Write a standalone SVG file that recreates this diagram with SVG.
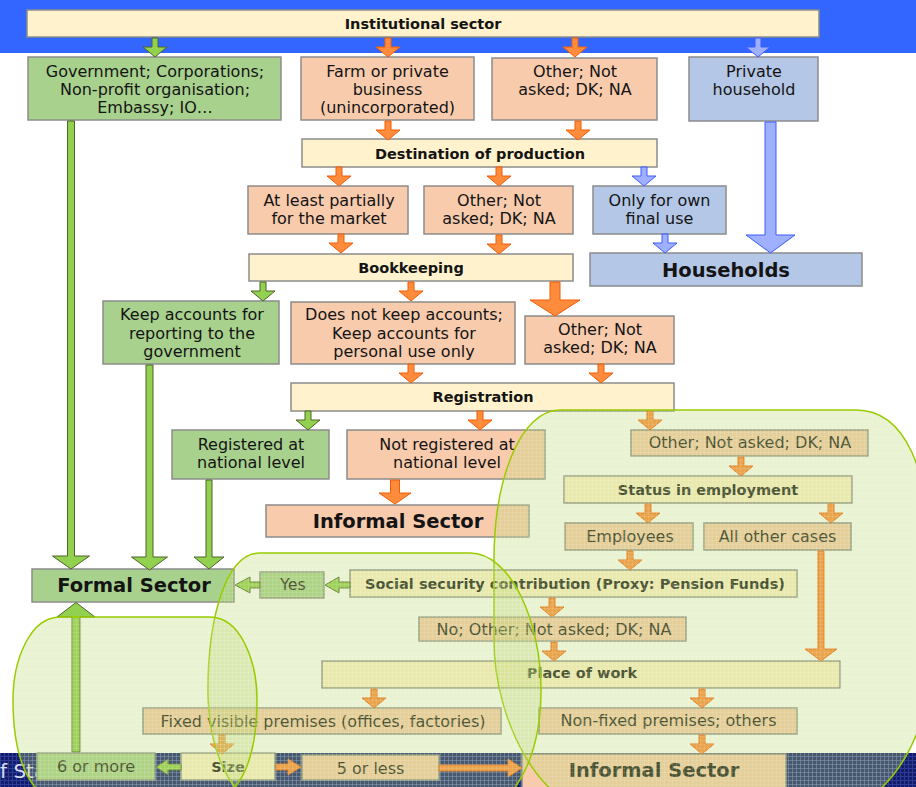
<svg xmlns="http://www.w3.org/2000/svg" width="916" height="787" viewBox="0 0 916 787">
<style>
.bx{stroke:#8C8C8C;stroke-width:1.5}
.g{fill:#A9D18E}.p{fill:#F8CBAD}.b{fill:#B4C7E7}.c{fill:#FFF2CC}
text{font-family:"DejaVu Sans",sans-serif;fill:#141414;text-anchor:middle}
.t{font-size:16px}
.tb{font-size:14.5px;font-weight:bold}
.tl{font-size:19.5px;font-weight:bold}
.ag{fill:#92D050;stroke:#4F6228;stroke-width:1}
.ao{fill:#FF8C3C;stroke:#F25C05;stroke-width:1}
.ab{fill:#9EB0FF;stroke:#3D5CFF;stroke-width:1}
.hl{fill:#BCD870;fill-opacity:0.32;stroke:none}
.hlg{fill:url(#grid);stroke:#99CC00;stroke-width:1.5}
</style>
<defs>
<path id="ad" d="M-3 0h6v9h9l-12 10-12-10h9z"/>
<pattern id="grid" width="4" height="4" patternUnits="userSpaceOnUse">
<path d="M0 0.5H4M0.5 0V4" stroke="#ffffff" stroke-opacity="0.11" stroke-width="1" fill="none"/>
</pattern>
<pattern id="ngrid" width="4" height="4" patternUnits="userSpaceOnUse">
<rect width="4" height="4" fill="#121C6A"/>
<path d="M0 0.5H4M0.5 0V4" stroke="#2C3C96" stroke-width="1" fill="none"/>
</pattern>
</defs>

<rect x="0" y="0" width="916" height="53" fill="#3366FF"/>
<rect x="0" y="753" width="916" height="34" fill="url(#ngrid)"/>
<text x="0" y="778" style="font-size:20px;fill:#D8DCF0;text-anchor:start">f Sta</text>

<g id="n-institutional"><rect class="bx c" x="27" y="10" width="792" height="27"/><text class="tb" x="423" y="29">Institutional sector</text></g>
<g id="n-government"><rect class="bx g" x="28" y="57" width="253" height="63"/><text class="t" x="155" y="77">Government; Corporations;</text><text class="t" x="155" y="95">Non-profit organisation;</text><text class="t" x="155" y="113">Embassy; IO…</text></g>
<g id="n-farm"><rect class="bx p" x="301" y="57" width="173" height="63"/><text class="t" x="387.5" y="77">Farm or private</text><text class="t" x="387.5" y="95">business</text><text class="t" x="387.5" y="113">(unincorporated)</text></g>
<g id="n-other1"><rect class="bx p" x="492" y="58" width="165" height="62"/><text class="t" x="575" y="77">Other; Not</text><text class="t" x="575" y="95">asked; DK; NA</text></g>
<g id="n-private"><rect class="bx b" x="689" y="57" width="129" height="64"/><text class="t" x="754" y="77">Private</text><text class="t" x="754" y="95">household</text></g>
<g id="n-destination"><rect class="bx c" x="302" y="139" width="355" height="28"/><text class="tb" x="480" y="159">Destination of production</text></g>
<g id="n-market"><rect class="bx p" x="248" y="186" width="160" height="48"/><text class="t" x="329" y="206">At least partially</text><text class="t" x="329" y="224">for the market</text></g>
<g id="n-other2"><rect class="bx p" x="424" y="186" width="149" height="48"/><text class="t" x="499" y="206">Other; Not</text><text class="t" x="499" y="224">asked; DK; NA</text></g>
<g id="n-ownuse"><rect class="bx b" x="593" y="186" width="133" height="48"/><text class="t" x="659.5" y="206">Only for own</text><text class="t" x="659.5" y="224">final use</text></g>
<g id="n-bookkeeping"><rect class="bx c" x="249" y="254" width="324" height="27"/><text class="tb" x="411" y="273">Bookkeeping</text></g>
<g id="n-households"><rect class="bx b" x="590" y="253" width="272" height="33"/><text class="tl" x="726" y="277">Households</text></g>
<g id="n-keepgov"><rect class="bx g" x="103" y="301" width="176" height="63"/><text class="t" x="192" y="320">Keep accounts for</text><text class="t" x="192" y="339">reporting to the</text><text class="t" x="192" y="357">government</text></g>
<g id="n-nokeep"><rect class="bx p" x="291" y="302" width="224" height="62"/><text class="t" x="404" y="320">Does not keep accounts;</text><text class="t" x="404" y="339">Keep accounts for</text><text class="t" x="404" y="357">personal use only</text></g>
<g id="n-other3"><rect class="bx p" x="525" y="316" width="149" height="48"/><text class="t" x="600" y="335">Other; Not</text><text class="t" x="600" y="353">asked; DK; NA</text></g>
<g id="n-registration"><rect class="bx c" x="291" y="383" width="383" height="28"/><text class="tb" x="483" y="402">Registration</text></g>
<g id="n-registered"><rect class="bx g" x="172" y="430" width="157" height="49"/><text class="t" x="251" y="450">Registered at</text><text class="t" x="251" y="468">national level</text></g>
<g id="n-notregistered"><rect class="bx p" x="347" y="430" width="198" height="49"/><text class="t" x="447" y="450">Not registered at</text><text class="t" x="447" y="468">national level</text></g>
<g id="n-other4"><rect class="bx p" x="631" y="430" width="237" height="26"/><text class="t" x="750" y="448">Other; Not asked; DK; NA</text></g>
<g id="n-informal1"><rect class="bx p" x="266" y="505" width="263" height="32"/><text class="tl" x="398" y="528">Informal Sector</text></g>
<g id="n-status"><rect class="bx c" x="564" y="476" width="288" height="27"/><text class="tb" x="708" y="495">Status in employment</text></g>
<g id="n-employees"><rect class="bx p" x="565" y="523" width="128" height="27"/><text class="t" x="630" y="542">Employees</text></g>
<g id="n-allother"><rect class="bx p" x="704" y="523" width="147" height="27"/><text class="t" x="777.5" y="542">All other cases</text></g>
<g id="n-formal"><rect class="bx g" x="32" y="569" width="202" height="33"/><text class="tl" x="134" y="592">Formal Sector</text></g>
<g id="n-yes"><rect class="bx g" x="260" y="572" width="64" height="26"/><text class="t" x="293" y="590">Yes</text></g>
<g id="n-social"><rect class="bx c" x="350" y="570" width="447" height="27"/><text class="tb" x="575" y="589">Social security contribution (Proxy: Pension Funds)</text></g>
<g id="n-noother"><rect class="bx p" x="419" y="617" width="267" height="24"/><text class="t" x="554" y="635">No; Other; Not asked; DK; NA</text></g>
<g id="n-place"><rect class="bx c" x="322" y="661" width="518" height="27"/><text class="tb" x="582" y="678">Place of work</text></g>
<g id="n-fixed"><rect class="bx p" x="143" y="708" width="358" height="26"/><text class="t" x="323" y="727">Fixed visible premises (offices, factories)</text></g>
<g id="n-nonfixed"><rect class="bx p" x="539" y="708" width="258" height="26"/><text class="t" x="668.5" y="726">Non-fixed premises; others</text></g>
<g id="n-sixmore"><rect class="bx g" x="37" y="753" width="118" height="27"/><text class="t" x="96" y="772">6 or more</text></g>
<g id="n-size"><rect class="bx c" x="181" y="753" width="94" height="27"/><text class="tb" x="228" y="772">Size</text></g>
<g id="n-fiveless"><rect class="bx p" x="302" y="755" width="137" height="25"/><text class="t" x="370.5" y="774">5 or less</text></g>
<g id="n-informal2"><rect class="bx p" x="522" y="754" width="264" height="36"/><text class="tl" x="654" y="777">Informal Sector</text></g>

<g id="connectors">
<use href="#ad" class="ag" transform="translate(155,38)"/>
<use href="#ad" class="ao" transform="translate(388,38)"/>
<use href="#ad" class="ao" transform="translate(575,38)"/>
<use href="#ad" class="ab" transform="translate(758,38)"/>
<use href="#ad" class="ao" transform="translate(388,121)"/>
<use href="#ad" class="ao" transform="translate(578,121)"/>
<use href="#ad" class="ao" transform="translate(339,167)"/>
<use href="#ad" class="ao" transform="translate(499,167)"/>
<use href="#ad" class="ab" transform="translate(644,167)"/>
<use href="#ad" class="ao" transform="translate(341,234)"/>
<use href="#ad" class="ao" transform="translate(499,235)"/>
<use href="#ad" class="ab" transform="translate(665,234)"/>
<use href="#ad" class="ag" transform="translate(263,282)"/>
<use href="#ad" class="ao" transform="translate(411,282)"/>
<use href="#ad" class="ao" transform="translate(411,364)"/>
<use href="#ad" class="ao" transform="translate(601,364)"/>
<use href="#ad" class="ag" transform="translate(308,411)"/>
<use href="#ad" class="ao" transform="translate(480,411)"/>
<use href="#ad" class="ao" transform="translate(650,411)"/>
<use href="#ad" class="ao" transform="translate(741,457)"/>
<use href="#ad" class="ao" transform="translate(648,504)"/>
<use href="#ad" class="ao" transform="translate(831,504)"/>
<use href="#ad" class="ao" transform="translate(630,551)"/>
<use href="#ad" class="ao" transform="translate(552,598)"/>
<use href="#ad" class="ao" transform="translate(554,642)"/>
<use href="#ad" class="ao" transform="translate(374,689)"/>
<use href="#ad" class="ao" transform="translate(702,689)"/>
<use href="#ad" class="ao" transform="translate(222,735)"/>
<use href="#ad" class="ao" transform="translate(702,735)"/>
<path class="ag" d="M67.5 121H74.5V556H89.5L71 569L52.5 556H67.5Z"/>
<path class="ag" d="M146 365H153V557H167.5L149.5 570L131.5 557H146Z"/>
<path class="ag" d="M206 480H212V557H224L209 569L194 557H206Z"/>
<path class="ao" d="M390.5 480H399.5V493H411L395 504L379 493H390.5Z"/>
<path class="ao" d="M550 282H560V300H580L555 316L530 300H550Z"/>
<path class="ab" d="M765 122H776V235H795L770.5 253L746 235H765Z"/>
<path class="ao" d="M818 551H824V649H837L821 661L805 649H818Z"/>
<path class="ag" d="M72 752V617H57L76 602.5L95 617H80V752Z"/>
<path class="ag" d="M260 582H250V577L235 585L250 593V588H260Z"/>
<path class="ag" d="M350 582H339V577L325 585L339 593V588H350Z"/>
<path class="ag" d="M181 764H168V759L156 767L168 775V770H181Z"/>
<path class="ao" d="M276 764H288V759L301 767L288 775V770H276Z"/>
<path class="ao" d="M439 765H508V759L522 768L508 777V771H439Z"/>
</g>

<g id="highlight-regions">
<path id="hl-right" class="hl" d="M560 410H856C905 410 930 470 930 560V660C930 730 895 800 835 812H600C540 810 494 720 494 640V560C494 480 520 410 560 410Z"/>
<path class="hlg" d="M560 410H856C905 410 930 470 930 560V660C930 730 895 800 835 812H600C540 810 494 720 494 640V560C494 480 520 410 560 410Z"/>
<path id="hl-mid" class="hl" d="M260 553H470C510 553 541 620 541 690C541 750 520 800 480 815H270C230 800 208 750 208 690C208 620 225 553 260 553Z"/>
<path class="hlg" d="M260 553H470C510 553 541 620 541 690C541 750 520 800 480 815H270C230 800 208 750 208 690C208 620 225 553 260 553Z"/>
<path id="hl-left" class="hl" d="M60 617H210C240 617 257 660 257 700C257 760 240 800 200 808H70C30 800 13 760 13 700C13 660 30 617 60 617Z"/>
<path class="hlg" d="M60 617H210C240 617 257 660 257 700C257 760 240 800 200 808H70C30 800 13 760 13 700C13 660 30 617 60 617Z"/>
</g>
</svg>
